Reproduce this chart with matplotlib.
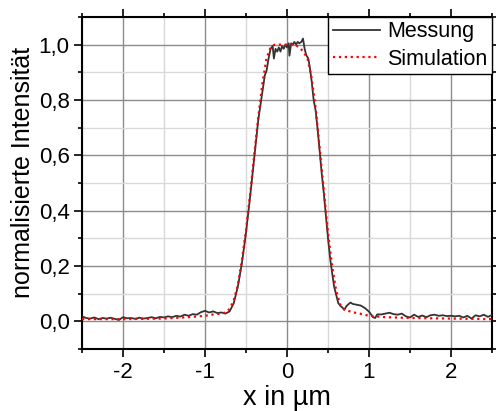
import matplotlib
matplotlib.use("Agg")
import matplotlib.pyplot as plt
from matplotlib.ticker import MultipleLocator, FuncFormatter

plt.rcParams['font.family'] = ['Liberation Sans', 'DejaVu Sans']

# Messung (measurement)
mess_x = [-2.50, -2.45, -2.40, -2.35, -2.30, -2.25, -2.20, -2.15, -2.10, -2.05,
          -2.00, -1.95, -1.90, -1.85, -1.80, -1.75, -1.70, -1.65, -1.60, -1.55,
          -1.50, -1.45, -1.40, -1.35, -1.30, -1.25, -1.20, -1.15, -1.10, -1.05,
          -1.00, -0.95, -0.90, -0.85, -0.80, -0.75, -0.70, -0.65, -0.60, -0.55,
          -0.50, -0.45, -0.40, -0.375, -0.35, -0.30, -0.27, -0.25, -0.225, -0.20,
          -0.175, -0.16, -0.14, -0.12, -0.10, -0.08, -0.06, -0.04, -0.02, 0.00,
          0.02, 0.03, 0.05, 0.07, 0.09, 0.11, 0.13, 0.15, 0.175, 0.195,
          0.215, 0.235, 0.26, 0.28, 0.30, 0.325, 0.35, 0.375, 0.40, 0.425,
          0.45, 0.475, 0.50, 0.525, 0.55, 0.575, 0.60, 0.625, 0.65, 0.675,
          0.70, 0.725, 0.75, 0.775, 0.80, 0.85, 0.90, 0.95, 1.00, 1.05,
          1.075, 1.10, 1.15, 1.20, 1.25, 1.30, 1.35, 1.40, 1.45, 1.50,
          1.55, 1.60, 1.65, 1.70, 1.75, 1.80, 1.85, 1.90, 1.95, 2.00,
          2.05, 2.10, 2.15, 2.20, 2.25, 2.30, 2.35, 2.40, 2.45, 2.50]
mess_y = [0.018, 0.012, 0.010, 0.014, 0.008, 0.012, 0.010, 0.013, 0.009, 0.005,
          0.015, 0.011, 0.012, 0.009, 0.013, 0.010, 0.012, 0.015, 0.011, 0.016,
          0.014, 0.018, 0.015, 0.020, 0.017, 0.024, 0.020, 0.026, 0.024, 0.033,
          0.038, 0.032, 0.036, 0.030, 0.032, 0.028, 0.036, 0.065, 0.125, 0.210,
          0.320, 0.450, 0.590, 0.660, 0.729, 0.830, 0.890, 0.905, 0.950, 0.985,
          0.995, 0.950, 0.985, 0.975, 0.990, 0.975, 0.995, 0.985, 1.000, 0.990,
          1.005, 0.960, 1.005, 1.000, 1.010, 1.000, 1.010, 1.005, 1.010, 1.022,
          0.985, 0.962, 0.950, 0.915, 0.870, 0.800, 0.760, 0.690, 0.610, 0.530,
          0.460, 0.380, 0.300, 0.230, 0.175, 0.125, 0.095, 0.066, 0.056, 0.050,
          0.042, 0.055, 0.062, 0.068, 0.063, 0.060, 0.057, 0.048, 0.035, 0.015,
          0.012, 0.025, 0.025, 0.028, 0.031, 0.026, 0.024, 0.028, 0.018, 0.014,
          0.024, 0.016, 0.021, 0.015, 0.022, 0.024, 0.020, 0.022, 0.019, 0.020,
          0.018, 0.020, 0.014, 0.020, 0.010, 0.022, 0.018, 0.024, 0.016, 0.023]

# Simulation
sim_x = [-2.5, -2.0, -1.5, -1.2, -1.0, -0.9, -0.8, -0.75, -0.7, -0.65, -0.6,
         -0.55, -0.5, -0.45, -0.40, -0.35, -0.30, -0.25, -0.20, -0.15, -0.1,
         0.0, 0.1, 0.15, 0.2, 0.25, 0.3, 0.35, 0.40, 0.45, 0.50, 0.55, 0.60,
         0.65, 0.70, 0.8, 0.9, 1.0, 1.2, 1.5, 2.0, 2.5]
sim_y = [0.008, 0.008, 0.010, 0.015, 0.020, 0.025, 0.028, 0.032, 0.045, 0.075, 0.13,
         0.22, 0.33, 0.46, 0.60, 0.74, 0.86, 0.95, 0.99, 1.0, 1.0,
         1.0, 1.0, 0.99, 0.975, 0.95, 0.88, 0.77, 0.62, 0.47, 0.32, 0.20, 0.11,
         0.06, 0.042, 0.033, 0.027, 0.020, 0.015, 0.012, 0.010, 0.008]

x_ticks = [-2, -1, 0, 1, 2]
y_ticks = [0.0, 0.2, 0.4, 0.6, 0.8, 1.0]

fig = plt.figure(figsize=(4.96, 4.11), dpi=100)
ax = fig.add_axes([82/496, 62/411, 410/496, 332/411])

ax.plot(mess_x, mess_y, color='#333333', lw=1.3, label='Messung', zorder=3)
ax.plot(sim_x, sim_y, color='red', lw=1.6, ls=':', label='Simulation', zorder=4)

ax.set_xlim(-2.5, 2.5)
ax.set_ylim(-0.1, 1.1)
ax.set_xticks(x_ticks)
ax.set_yticks(y_ticks)
ax.xaxis.set_minor_locator(MultipleLocator(0.5))
ax.yaxis.set_minor_locator(MultipleLocator(0.1))
ax.yaxis.set_major_formatter(FuncFormatter(lambda v, p: f"{v:.1f}".replace('.', ',')))
ax.xaxis.set_major_formatter(FuncFormatter(lambda v, p: f"{v:.0f}"))

ax.grid(which='major', color='#8c8c8c', lw=1.0, zorder=0)
ax.grid(which='minor', color='#d9d9d9', lw=1.0, zorder=0)
ax.set_axisbelow(True)

ax.tick_params(which='both', direction='out', top=True, right=True,
               labeltop=False, labelright=False, width=1.2, color='black')
ax.tick_params(which='major', length=6, labelsize=16, pad=3)
ax.tick_params(which='minor', length=3)
for s in ax.spines.values():
    s.set_linewidth(1.5)
    s.set_color('black')

ax.set_xlabel('x in µm', fontsize=19.5, labelpad=2)
ax.set_ylabel('normalisierte Intensität', fontsize=18)
ax.yaxis.set_label_coords(-0.115, 0.533)

leg = ax.legend(loc='upper right', fontsize=15.5, frameon=True, fancybox=False,
                framealpha=1, edgecolor='black', borderaxespad=0,
                handlelength=2.2, handletextpad=0.35, borderpad=0.2,
                labelspacing=0.3)
leg.get_frame().set_linewidth(1.0)

fig.savefig('out.png', dpi=100)
